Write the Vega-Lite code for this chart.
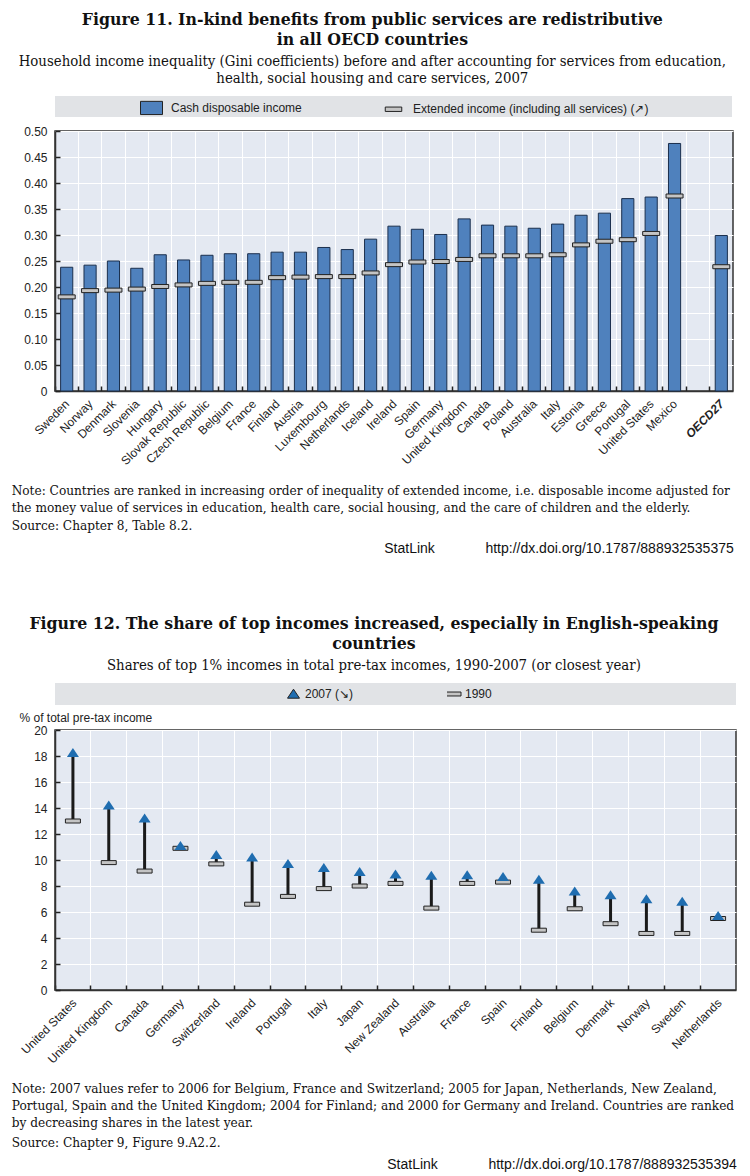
{
  "$schema": "https://vega.github.io/schema/vega-lite/v6.json",
  "background": "white",
  "padding": {"left": 10, "top": 10, "right": 0, "bottom": 0},
  "columns": 1,
  "align": "none",
  "spacing": 57,
  "resolve": {"scale": {"color": "independent", "shape": "independent"}, "legend": {"color": "independent", "shape": "independent"}},
  "config": {
    "view": {"fill": "#e4e9f2", "stroke": "#333333", "strokeWidth": 1.5},
    "axis": {
      "labelFont": "Liberation Sans", "labelFontSize": 12, "labelColor": "#222222", "labelOverlap": false,
      "gridColor": "#ffffff", "gridWidth": 1, "gridOpacity": 1,
      "domainColor": "#333333", "domainWidth": 1.5, "tickColor": "#222222", "tickWidth": 1.5,
      "titleFont": "Liberation Sans", "titleFontSize": 12, "titleFontWeight": "normal", "titleColor": "#222222"
    },
    "legend": {"labelFont": "Liberation Sans", "labelFontSize": 12, "labelColor": "#222222", "titleFont": "Liberation Sans", "titleFontSize": 12},
    "title": {"font": "DejaVu Serif Condensed, DejaVu Serif, serif", "color": "#111111", "subtitleFont": "DejaVu Serif Condensed, DejaVu Serif, serif", "subtitleColor": "#111111"}
  },
  "concat": [
    {
      "title": {
        "text": ["Figure 11.  In-kind benefits from public services are redistributive", "in all OECD countries"],
        "subtitle": ["Household income inequality (Gini coefficients) before and after accounting for services from education,", "health, social housing and care services, 2007"],
        "anchor": "middle", "fontSize": 17.5, "fontWeight": "bold", "lineHeight": 20,
        "subtitleFontSize": 14.8, "subtitleLineHeight": 17, "subtitlePadding": 6, "offset": 10
      },
      "vconcat": [
        {
          "title": {"text": "StatLink\u00a0\u00a0\u00a0\u00a0\u00a0\u00a0\u00a0\u00a0\u00a0\u00a0\u00a0\u00a0\u00a0http://dx.doi.org/10.1787/888932535375", "orient": "bottom", "anchor": "end", "font": "Liberation Sans", "fontSize": 14, "fontWeight": "normal", "offset": 9},
          "vconcat": [
            {
              "width": 678, "height": 260,
              "title": {
                "text": ["Note: Countries are ranked in increasing order of inequality of extended income, i.e. disposable income adjusted for", "the money value of services in education, health care, social housing, and the care of children and the elderly."],
                "subtitle": "Source: Chapter 8, Table 8.2.",
                "orient": "bottom", "anchor": "start", "fontSize": 13.5, "fontWeight": "normal", "lineHeight": 17,
                "subtitleFontSize": 13.5, "subtitlePadding": 5, "offset": 17, "dx": -12
              },
              "data": {"values": [
                {"country": "Sweden", "cash": 0.238, "extended": 0.181},
                {"country": "Norway", "cash": 0.242, "extended": 0.193},
                {"country": "Denmark", "cash": 0.250, "extended": 0.194},
                {"country": "Slovenia", "cash": 0.236, "extended": 0.196},
                {"country": "Hungary", "cash": 0.262, "extended": 0.201},
                {"country": "Slovak Republic", "cash": 0.252, "extended": 0.204},
                {"country": "Czech Republic", "cash": 0.261, "extended": 0.207},
                {"country": "Belgium", "cash": 0.264, "extended": 0.209},
                {"country": "France", "cash": 0.264, "extended": 0.209},
                {"country": "Finland", "cash": 0.267, "extended": 0.218},
                {"country": "Austria", "cash": 0.267, "extended": 0.219},
                {"country": "Luxembourg", "cash": 0.276, "extended": 0.220},
                {"country": "Netherlands", "cash": 0.272, "extended": 0.220},
                {"country": "Iceland", "cash": 0.292, "extended": 0.227},
                {"country": "Ireland", "cash": 0.317, "extended": 0.243},
                {"country": "Spain", "cash": 0.311, "extended": 0.248},
                {"country": "Germany", "cash": 0.301, "extended": 0.249},
                {"country": "United Kingdom", "cash": 0.331, "extended": 0.253},
                {"country": "Canada", "cash": 0.319, "extended": 0.260},
                {"country": "Poland", "cash": 0.317, "extended": 0.260},
                {"country": "Australia", "cash": 0.313, "extended": 0.260},
                {"country": "Italy", "cash": 0.321, "extended": 0.262},
                {"country": "Estonia", "cash": 0.338, "extended": 0.281},
                {"country": "Greece", "cash": 0.342, "extended": 0.288},
                {"country": "Portugal", "cash": 0.370, "extended": 0.291},
                {"country": "United States", "cash": 0.373, "extended": 0.303},
                {"country": "Mexico", "cash": 0.476, "extended": 0.375},
                {"country": "OECD27", "cash": 0.299, "extended": 0.239}
              ]},
              "encoding": {
                "x": {
                  "field": "country", "type": "nominal", "sort": null,
                  "scale": {"domain": ["Sweden", "Norway", "Denmark", "Slovenia", "Hungary", "Slovak Republic", "Czech Republic", "Belgium", "France", "Finland", "Austria", "Luxembourg", "Netherlands", "Iceland", "Ireland", "Spain", "Germany", "United Kingdom", "Canada", "Poland", "Australia", "Italy", "Estonia", "Greece", "Portugal", "United States", "Mexico", " ", "OECD27"], "paddingInner": 0, "paddingOuter": 0},
                  "axis": {
                    "title": null, "bandPosition": 0, "labelOffset": -3, "labelAngle": -45, "labelAlign": "right", "labelBaseline": "top",
                    "labelPadding": 12, "tickSize": -5, "grid": true, "labelOverlap": false,
                    "labelFontWeight": {"condition": {"test": "datum.value === 'OECD27'", "value": "bold"}, "value": "normal"},
                    "labelFontStyle": {"condition": {"test": "datum.value === 'OECD27'", "value": "italic"}, "value": "normal"}
                  }
                }
              },
              "layer": [
                {
                  "mark": {"type": "bar", "width": {"band": 0.52}, "stroke": "#1b2f4d", "strokeWidth": 1},
                  "encoding": {
                    "y": {"field": "cash", "type": "quantitative", "scale": {"domain": [0, 0.5], "nice": false, "zero": true},
                      "axis": {"title": null, "values": [0, 0.05, 0.1, 0.15, 0.2, 0.25, 0.3, 0.35, 0.4, 0.45, 0.5], "tickCount": 11, "labelExpr": "datum.value === 0 ? '0' : format(datum.value, '.2f')", "tickSize": -5, "labelPadding": 13, "grid": true, "labelOverlap": false}},
                    "color": {
                      "datum": "Cash disposable income", "type": "nominal",
                      "scale": {"domain": ["Cash disposable income", "Extended income (including all services) (↗)"], "range": ["#4f81bd", "#c4c4c4"]},
                      "legend": {
                        "orient": "none", "legendX": 0, "legendY": -35, "direction": "horizontal",
                        "title": "\u00a0", "titleOrient": "left", "titlePadding": 85,
                        "fillColor": "#e1e3e6", "padding": 0, "columnPadding": 80, "labelOffset": 8, "labelLimit": 600,
                        "symbolSize": 484, "symbolStrokeColor": "#222222", "symbolStrokeWidth": 1,
                        "labelExpr": "datum.value === 'Cash disposable income' ? datum.label : pad(datum.label, length(datum.label) + 25, '\u00a0') + '\u200b'",
                        "encode": {"symbols": {"update": {
                          "shape": {"signal": "datum.value === 'Cash disposable income' ? 'M-1,-0.6H1V0.6H-1Z' : 'M-0.75,-0.2H0.75V0.2H-0.75Z'"},
                          "stroke": {"value": "#222222"}, "strokeWidth": {"value": 1}
                        }}}
                      }
                    }
                  }
                },
                {
                  "mark": {"type": "tick", "thickness": 4, "size": 17, "stroke": "#222222", "strokeWidth": 1, "opacity": 1},
                  "encoding": {
                    "y": {"field": "extended", "type": "quantitative"},
                    "color": {"datum": "Extended income (including all services) (↗)", "type": "nominal"}
                  }
                }
              ]
            }
          ]
        }
      ]
    },
    {
      "title": {
        "text": ["Figure 12.  The share of top incomes increased, especially in English-speaking", "countries"],
        "subtitle": "Shares of top 1% incomes in total pre-tax incomes, 1990-2007 (or closest year)",
        "anchor": "middle", "fontSize": 17.5, "fontWeight": "bold", "lineHeight": 20,
        "subtitleFontSize": 14.8, "subtitleLineHeight": 17, "subtitlePadding": 6, "offset": 10
      },
      "vconcat": [
        {
          "title": {"text": "StatLink\u00a0\u00a0\u00a0\u00a0\u00a0\u00a0\u00a0\u00a0\u00a0\u00a0\u00a0\u00a0\u00a0http://dx.doi.org/10.1787/888932535394", "orient": "bottom", "anchor": "end", "font": "Liberation Sans", "fontSize": 14, "fontWeight": "normal", "offset": 8},
          "vconcat": [
            {
              "width": 681, "height": 260,
              "title": {
                "text": ["Note: 2007 values refer to 2006 for Belgium, France and Switzerland; 2005 for Japan, Netherlands, New Zealand,", "Portugal, Spain and the United Kingdom; 2004 for Finland; and 2000 for Germany and Ireland. Countries are ranked", "by decreasing shares in the latest year."],
                "subtitle": "Source: Chapter 9, Figure 9.A2.2.",
                "orient": "bottom", "anchor": "start", "fontSize": 13.5, "fontWeight": "normal", "lineHeight": 17,
                "subtitleFontSize": 13.5, "subtitlePadding": 6, "offset": 17, "dx": -7
              },
              "data": {"values": [
                {"country": "United States", "y2007": 18.25, "y1990": 13.0},
                {"country": "United Kingdom", "y2007": 14.2, "y1990": 9.8},
                {"country": "Canada", "y2007": 13.2, "y1990": 9.15},
                {"country": "Germany", "y2007": 11.1, "y1990": 10.9},
                {"country": "Switzerland", "y2007": 10.4, "y1990": 9.7},
                {"country": "Ireland", "y2007": 10.2, "y1990": 6.6},
                {"country": "Portugal", "y2007": 9.7, "y1990": 7.2},
                {"country": "Italy", "y2007": 9.4, "y1990": 7.8},
                {"country": "Japan", "y2007": 9.1, "y1990": 8.0},
                {"country": "New Zealand", "y2007": 8.9, "y1990": 8.2},
                {"country": "Australia", "y2007": 8.8, "y1990": 6.3},
                {"country": "France", "y2007": 8.85, "y1990": 8.2},
                {"country": "Spain", "y2007": 8.7, "y1990": 8.3},
                {"country": "Finland", "y2007": 8.5, "y1990": 4.6},
                {"country": "Belgium", "y2007": 7.6, "y1990": 6.25},
                {"country": "Denmark", "y2007": 7.3, "y1990": 5.1},
                {"country": "Norway", "y2007": 7.0, "y1990": 4.35},
                {"country": "Sweden", "y2007": 6.8, "y1990": 4.35},
                {"country": "Netherlands", "y2007": 5.7, "y1990": 5.5}
              ]},
              "encoding": {
                "x": {
                  "field": "country", "type": "nominal", "sort": null,
                  "scale": {"paddingInner": 0, "paddingOuter": 0},
                  "axis": {
                    "title": null, "bandPosition": 0, "labelOffset": -2, "labelAngle": -45, "labelAlign": "right", "labelBaseline": "top",
                    "labelPadding": 12, "tickSize": -5, "grid": true, "labelOverlap": false
                  }
                }
              },
              "layer": [
                {
                  "mark": {"type": "rule", "color": "#1a1a1a", "strokeWidth": 3},
                  "encoding": {
                    "y": {"field": "y1990", "type": "quantitative", "scale": {"domain": [0, 20], "nice": false},
                      "axis": {"title": "% of total pre-tax income", "titleAngle": 0, "titleAlign": "left", "titleBaseline": "middle", "titleX": -36, "titleY": -13,
                        "values": [0, 2, 4, 6, 8, 10, 12, 14, 16, 18, 20], "tickCount": 11, "tickSize": -5, "labelPadding": 13, "grid": true, "labelOverlap": false}},
                    "y2": {"field": "y2007"}
                  }
                },
                {
                  "mark": {"type": "tick", "thickness": 4, "size": 15, "stroke": "#222222", "strokeWidth": 1, "opacity": 1},
                  "encoding": {
                    "y": {"field": "y1990", "type": "quantitative"},
                    "color": {"datum": "1990", "type": "nominal",
                      "scale": {"domain": ["2007 (↘)", "1990"], "range": ["#1f6db0", "#c4c4c4"]},
                      "legend": {
                        "orient": "none", "legendX": 0, "legendY": -47, "direction": "horizontal",
                        "title": "\u00a0", "titleOrient": "left", "titlePadding": 232,
                        "fillColor": "#e1e3e6", "padding": 0, "columnPadding": 93, "labelOffset": 5, "labelLimit": 600,
                        "symbolSize": 144, "clipHeight": 22, "symbolStrokeColor": "#222222", "symbolStrokeWidth": 1,
                        "labelExpr": "datum.value === '1990' ? pad(datum.label, length(datum.label) + 73, '\u00a0') + '\u200b' : datum.label"
                      }
                    }
                  }
                },
                {
                  "mark": {"type": "point", "filled": true, "opacity": 1, "size": 144},
                  "encoding": {
                    "y": {"field": "y2007", "type": "quantitative"},
                    "color": {"datum": "2007 (↘)", "type": "nominal"},
                    "shape": {"datum": "2007 (↘)", "type": "nominal",
                      "scale": {"domain": ["2007 (↘)", "1990"], "range": ["M0,-0.8L1,0.7H-1Z", "M-1.25,-0.33H1.25V0.33H-1.25Z"]},
                      "legend": {
                        "orient": "none", "legendX": 0, "legendY": -47, "direction": "horizontal",
                        "title": "\u00a0", "titleOrient": "left", "titlePadding": 232,
                        "fillColor": "#e1e3e6", "padding": 0, "columnPadding": 93, "labelOffset": 5, "labelLimit": 600,
                        "symbolSize": 144, "clipHeight": 22, "symbolStrokeColor": "#222222", "symbolStrokeWidth": 1,
                        "labelExpr": "datum.value === '1990' ? pad(datum.label, length(datum.label) + 73, '\u00a0') + '\u200b' : datum.label"
                      }
                    }
                  }
                }
              ]
            }
          ]
        }
      ]
    }
  ]
}
